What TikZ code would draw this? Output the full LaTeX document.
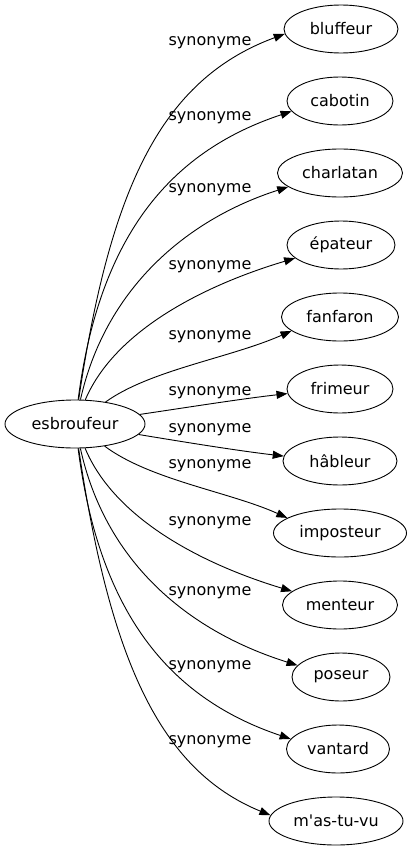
\documentclass[tikz,border=0pt]{standalone}
\usepackage{fontspec}
\newfontfamily\graphfont{DejaVu Sans}[Ligatures=TeXOff]
\usetikzlibrary{arrows.meta,shapes.geometric}

\tikzset{
  word/.style={ellipse, draw=black, line width=0.9bp, inner sep=0pt, minimum height=48bp,
    font=\graphfont\fontsize{16bp}{19bp}\selectfont},
  rel/.style={inner sep=0pt, font=\graphfont\fontsize{16bp}{19bp}\selectfont},
  link/.style={draw=black, line width=0.9bp, -{Triangle[length=11bp,width=8bp]}}
}

\begin{document}
\begin{tikzpicture}[x=1bp,y=-1bp]
\useasboundingbox (0,0) rectangle (417,851);
\node[word, minimum width=140bp] (esb) at (75,424) {esbroufeur};
% the twelve synonyms, one row every 72px
\foreach \i/\x/\w/\txt in {1/341/114/bluffeur, 2/340/106/cabotin, 3/340/125/charlatan,
  4/341/108/épateur, 5/340/117/fanfaron, 6/340/106/frimeur, 7/340/114/hâbleur,
  8/340/133/imposteur, 9/340/115/menteur, 10/341/98/poseur, 11/338/103/vantard,
  12/336/134/m'as-tu-vu}
  \node[word, minimum width=\w bp] (t\i) at (\x,{72*\i-43}) {\txt};
% labels and edges
\foreach \i/\ly/\ax/\ay/\bx/\by/\ang in {1/43/110/190/160/80/185, 2/118/100/230/175/150/192,
  3/190/105/290/185/220/195, 4/267/115/330/205/285/196, 5/337/150/370/230/358/196,
  6/393/190/407/240/399/185, 7/430/190/443/240/451/175, 8/466/150/480/230/492/164,
  9/523/115/520/205/565/164, 10/593/105/560/185/630/165, 11/667/100/620/175/700/168,
  12/742/110/660/160/770/175}
{
  \node[rel] (l\i) at (210,\ly) {synonyme};
  \draw[link] (esb) .. controls (\ax,\ay) and (\bx,\by) .. (t\i.\ang);
}
\end{tikzpicture}
\end{document}
